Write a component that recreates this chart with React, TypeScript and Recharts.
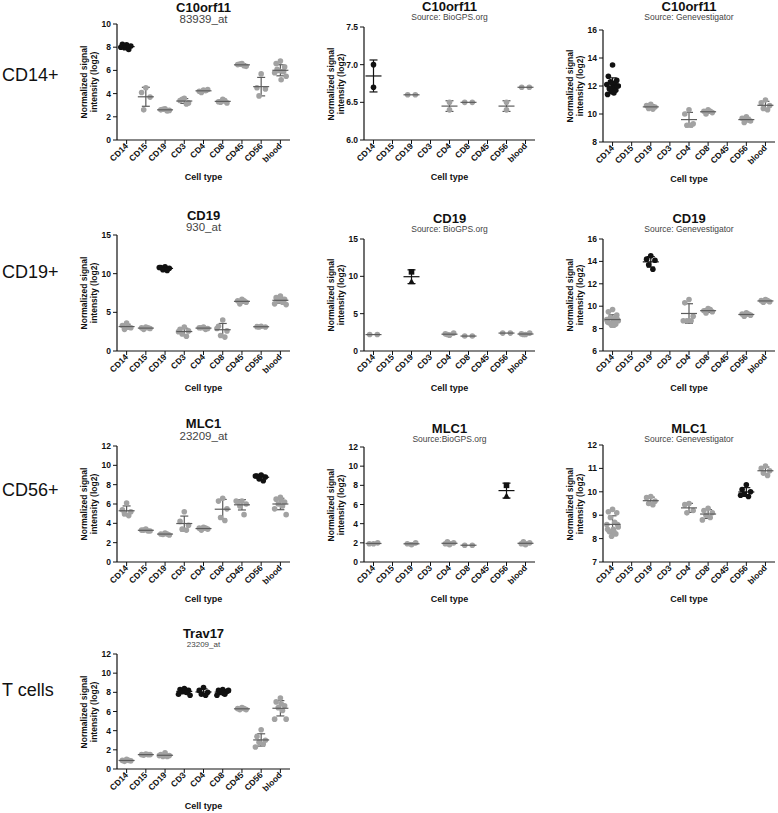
import React from "react";
import { ScatterChart, Scatter, XAxis, YAxis, ErrorBar } from "recharts";

const FONT = "'Liberation Sans', Arial, sans-serif";
const GREY = "#a2a2a2";
const GREY_BAR = "#5c5c5c";
const BLACK = "#111";

const cellTypes = ["CD14", "CD15", "CD19", "CD3", "CD4", "CD8", "CD45", "CD56", "blood"];
const rowLabels = ["CD14+", "CD19+", "CD56+", "T cells"];

// one list of samples per cell type, same order as cellTypes ([] = not measured)
const c10orf11Probe = [
  [8.2, 8.25, 8.1, 7.95, 7.8, 8.0],
  [4.5, 4.1, 3.7, 2.6],
  [2.7, 2.6, 2.55, 2.65, 2.5],
  [3.6, 3.4, 3.2, 3.5, 3.1],
  [4.3, 4.2, 4.35, 4.1, 4.25],
  [3.5, 3.3, 3.2, 3.25, 3.4],
  [6.6, 6.5, 6.35, 6.55, 6.4],
  [5.7, 4.5, 4.4, 3.8],
  [6.8, 6.6, 6.3, 6.0, 5.9, 5.8, 5.5, 5.2, 6.1, 5.9],
];
const c10orf11BioGPS = [
  [7.0, 6.7], [], [6.6, 6.6], [], [6.5, 6.4], [6.5, 6.5], [], [6.5, 6.4], [6.7, 6.7],
];
const c10orf11Geneve = [
  [13.5, 12.7, 12.4, 12.3, 12.2, 12.1, 12.0, 11.9, 11.8, 11.7, 11.6, 11.5, 11.4, 12.0, 12.2, 11.8],
  [],
  [10.7, 10.6, 10.5, 10.4, 10.35],
  [],
  [10.3, 10.0, 9.3, 9.2, 9.2],
  [10.3, 10.2, 10.1, 10.0, 10.2],
  [],
  [9.8, 9.7, 9.5, 9.4, 9.6],
  [11.0, 10.8, 10.6, 10.4, 10.3],
];
const cd19Probe = [
  [3.6, 3.3, 3.0, 2.8, 3.1],
  [3.1, 3.0, 2.9, 2.8, 3.0],
  [10.9, 10.8, 10.7, 10.5, 10.4, 10.8],
  [3.1, 2.8, 2.6, 2.2, 1.9, 2.5],
  [3.1, 3.0, 2.9, 3.0, 2.8],
  [4.0, 3.2, 2.6, 2.0, 1.8, 2.9],
  [6.7, 6.5, 6.3, 6.1, 6.5],
  [3.2, 3.15, 3.1, 3.1],
  [7.1, 6.9, 6.7, 6.5, 6.3, 6.1, 6.0, 6.6, 6.8],
];
const cd19BioGPS = [
  [2.2, 2.2], [], [10.6, 9.3], [], [2.1, 2.3, 2.4, 2.2], [2.0, 2.0], [], [2.4, 2.4], [2.2, 2.3, 2.4, 2.2],
];
const cd19Geneve = [
  [9.7, 9.5, 9.2, 9.0, 8.9, 8.8, 8.7, 8.6, 8.5, 8.4, 8.3, 8.3, 8.6, 8.8],
  [],
  [14.5, 14.2, 14.1, 13.7, 13.3],
  [],
  [10.6, 10.3, 9.1, 8.7, 8.7, 8.7],
  [9.8, 9.6, 9.5, 9.4, 9.7],
  [],
  [9.4, 9.3, 9.2, 9.1, 9.3],
  [10.6, 10.5, 10.4, 10.35, 10.5],
];
const mlc1Probe = [
  [6.1, 5.4, 5.2, 5.0, 4.8],
  [3.4, 3.3, 3.2, 3.3, 3.2],
  [3.0, 2.9, 2.8, 2.85, 2.9],
  [5.2, 4.2, 3.8, 3.4, 3.3],
  [3.6, 3.5, 3.4, 3.3, 3.5],
  [6.6, 6.3, 5.5, 4.6, 4.3],
  [6.3, 6.2, 6.0, 5.8, 4.9, 6.3],
  [9.0, 8.9, 8.8, 8.6, 8.4, 8.9],
  [6.7, 6.5, 6.2, 6.0, 5.8, 5.5, 4.9, 6.4],
];
const mlc1BioGPS = [
  [1.9, 1.9, 2.0], [], [1.8, 1.9, 2.0], [], [1.8, 1.9, 2.0, 2.1], [1.75, 1.75], [], [8.0, 6.9], [1.8, 1.9, 2.0, 2.1],
];
const mlc1Geneve = [
  [9.25, 9.15, 9.1, 8.9, 8.7, 8.6, 8.5, 8.4, 8.3, 8.2, 8.1, 8.3, 8.4, 8.6],
  [],
  [9.8, 9.75, 9.6, 9.5, 9.45],
  [],
  [9.5, 9.45, 9.2, 9.1],
  [9.3, 9.2, 9.1, 9.0, 8.9, 8.8],
  [],
  [10.3, 10.1, 10.0, 9.9, 9.8, 9.85],
  [11.1, 11.0, 10.9, 10.8, 10.7],
];
const trav17Probe = [
  [1.0, 0.9, 0.85, 0.8, 0.9],
  [1.55, 1.5, 1.5, 1.45, 1.5],
  [1.7, 1.5, 1.4, 1.3, 1.3, 1.4],
  [8.4, 8.3, 8.2, 8.1, 8.0, 7.8, 7.7, 8.3],
  [8.5, 8.2, 8.0, 7.8, 7.7],
  [8.3, 8.2, 8.1, 8.0, 7.8, 7.7, 8.2, 7.9],
  [6.4, 6.3, 6.2, 6.2, 6.3],
  [4.1, 3.4, 3.0, 2.8, 2.6, 2.3],
  [7.4, 7.0, 6.6, 6.4, 6.1, 5.2, 5.2, 6.8],
];

const ticks0to10 = [0, 2, 4, 6, 8, 10];
const ticks0to12 = [0, 2, 4, 6, 8, 10, 12];
const ticks0to15 = [0, 5, 10, 15];
const ticks6to75 = [6.0, 6.5, 7.0, 7.5];
const ticks8to16 = [8, 10, 12, 14, 16];
const ticks6to16 = [6, 8, 10, 12, 14, 16];
const ticks7to12 = [7, 8, 9, 10, 11, 12];

const jitterPattern = [0, -0.22, 0.22, -0.11, 0.11, -0.3, 0.3, 0.04, -0.17, 0.17, -0.05, 0.07, -0.26, 0.26, -0.01, -0.14, 0.14];

const mean = (v: number[]) => v.reduce((a, b) => a + b, 0) / v.length;
const sd = (v: number[]) => {
  const m = mean(v);
  return Math.sqrt(v.reduce((a, b) => a + (b - m) ** 2, 0) / (v.length - 1));
};

function buildSeries(groups: number[][], highlight: string[]) {
  const grey: any[] = [], black: any[] = [], greyStats: any[] = [], blackStats: any[] = [];
  groups.forEach((vals, ci) => {
    if (!vals.length) return;
    const hi = highlight.includes(cellTypes[ci]);
    const same = vals.every((v) => v === vals[0]);
    vals.forEach((v, i) => {
      let off = jitterPattern[i % jitterPattern.length];
      if (vals.length === 2) off = same ? (i ? 0.2 : -0.2) : 0;
      (hi ? black : grey).push({ x: ci + 1 + off, y: v, k: i });
    });
    (hi ? blackStats : greyStats).push({ x: ci + 1, y: mean(vals), sd: sd(vals) });
  });
  return { grey, black, greyStats, blackStats };
}

type PanelCfg = {
  title: string; sub: string; subSize: number; data: number[][]; highlight: string[];
  domain: [number, number]; ticks: number[]; fmt?: (v: number) => string; mixedMarkers?: boolean;
  left: number; top: number; bottom: number; width: number; titleY: number; subY: number;
};

const panels: PanelCfg[] = [
  { title: "C10orf11", sub: "83939_at", subSize: 11.5, data: c10orf11Probe, highlight: ["CD14"], domain: [0, 10], ticks: ticks0to10, left: 117, top: 24, bottom: 140, width: 173, titleY: 7, subY: 19 },
  { title: "C10orf11", sub: "Source: BioGPS.org", subSize: 8.5, data: c10orf11BioGPS, highlight: ["CD14"], domain: [6, 7.5], ticks: ticks6to75, fmt: (v) => v.toFixed(1), left: 364, top: 27, bottom: 140, width: 171, titleY: 6, subY: 17 },
  { title: "C10orf11", sub: "Source: Genevestigator", subSize: 8.5, data: c10orf11Geneve, highlight: ["CD14"], domain: [8, 16], ticks: ticks8to16, left: 603, top: 30, bottom: 142, width: 172, titleY: 6, subY: 17 },
  { title: "CD19", sub: "930_at", subSize: 11.5, data: cd19Probe, highlight: ["CD19"], domain: [0, 15], ticks: ticks0to15, left: 117, top: 235, bottom: 351, width: 173, titleY: 215, subY: 227 },
  { title: "CD19", sub: "Source: BioGPS.org", subSize: 8.5, data: cd19BioGPS, highlight: ["CD19"], domain: [0, 15], ticks: ticks0to15, mixedMarkers: true, left: 364, top: 239, bottom: 351, width: 171, titleY: 218, subY: 229 },
  { title: "CD19", sub: "Source: Genevestigator", subSize: 8.5, data: cd19Geneve, highlight: ["CD19"], domain: [6, 16], ticks: ticks6to16, left: 603, top: 239, bottom: 351, width: 172, titleY: 218, subY: 229 },
  { title: "MLC1", sub: "23209_at", subSize: 11.5, data: mlc1Probe, highlight: ["CD56"], domain: [0, 12], ticks: ticks0to12, left: 117, top: 446, bottom: 562, width: 173, titleY: 423, subY: 436 },
  { title: "MLC1", sub: "Source:BioGPS.org", subSize: 8.5, data: mlc1BioGPS, highlight: ["CD56"], domain: [0, 12], ticks: ticks0to12, mixedMarkers: true, left: 364, top: 447, bottom: 562, width: 171, titleY: 428, subY: 439 },
  { title: "MLC1", sub: "Source: Genevestigator", subSize: 8.5, data: mlc1Geneve, highlight: ["CD56"], domain: [7, 12], ticks: ticks7to12, left: 603, top: 445, bottom: 562, width: 172, titleY: 428, subY: 439 },
  { title: "Trav17", sub: "23209_at", subSize: 8, data: trav17Probe, highlight: ["CD3", "CD4", "CD8"], domain: [0, 12], ticks: ticks0to12, left: 117, top: 654, bottom: 769, width: 173, titleY: 633, subY: 644 },
];

const rowLabelY = [75, 272, 490, 690];

const renderCellTick = (props: any) => {
  const { x, y, payload } = props;
  const ax = x, ay = y + 0.5;
  return (
    <text x={ax} y={ay} transform={`rotate(-45 ${ax} ${ay})`} textAnchor="end" dy="0.35em"
      fontSize={8.5} fontWeight="bold" fill={BLACK} fontFamily={FONT}>
      {cellTypes[payload.value - 1]}
    </text>
  );
};

const dot = (color: string) => (p: any) => <circle cx={p.cx} cy={p.cy} r={2.8} fill={color} />;
// BioGPS highlighted pairs: first sample square, second triangle
const squareOrTriangle = (p: any) =>
  p.payload?.k === 0 ? (
    <rect x={p.cx - 2.8} y={p.cy - 2.8} width={5.6} height={5.6} fill={BLACK} />
  ) : (
    <path d={`M${p.cx},${p.cy - 3.4}L${p.cx + 3.4},${p.cy + 2.8}L${p.cx - 3.4},${p.cy + 2.8}Z`} fill={BLACK} />
  );
const meanLine = (color: string) => (p: any) => (
  <line x1={p.cx - 8} x2={p.cx + 8} y1={p.cy} y2={p.cy} stroke={color} strokeWidth={1.2} />
);

function Panel({ p }: { p: PanelCfg }) {
  const yAxisW = 40, mTop = 12, xAxisH = 46, mRight = 4;
  const plotH = p.bottom - p.top;
  const s = buildSeries(p.data, p.highlight);
  const cx = p.left + p.width / 2;
  const cy = (p.top + p.bottom) / 2;
  return (
    <>
      <div style={{ position: "absolute", left: p.left - yAxisW, top: p.top - mTop }}>
        <ScatterChart width={yAxisW + p.width + mRight} height={mTop + plotH + xAxisH} margin={{ top: mTop, right: mRight, bottom: 0, left: 0 }}>
          <XAxis type="number" dataKey="x" domain={[0.5, 9.5]} ticks={[1, 2, 3, 4, 5, 6, 7, 8, 9]} interval={0}
            height={xAxisH} tickSize={4} tickMargin={0} tick={renderCellTick} allowDataOverflow
            axisLine={{ stroke: BLACK, strokeWidth: 1.2 }} tickLine={{ stroke: BLACK }} />
          <YAxis type="number" dataKey="y" domain={p.domain} ticks={p.ticks} interval={0} width={yAxisW}
            tickSize={4} tickMargin={2} allowDataOverflow tickFormatter={p.fmt}
            tick={{ fontSize: 8.5, fontWeight: "bold", fill: BLACK, fontFamily: FONT }}
            axisLine={{ stroke: BLACK, strokeWidth: 1.2 }} tickLine={{ stroke: BLACK }} />
          <Scatter data={s.grey} shape={dot(GREY)} isAnimationActive={false} />
          <Scatter data={s.black} shape={p.mixedMarkers ? squareOrTriangle : dot(BLACK)} isAnimationActive={false} />
          <Scatter data={s.greyStats} shape={meanLine(GREY_BAR)} isAnimationActive={false}>
            <ErrorBar dataKey="sd" direction="y" width={4} stroke={GREY_BAR} strokeWidth={1.2} />
          </Scatter>
          <Scatter data={s.blackStats} shape={meanLine(BLACK)} isAnimationActive={false}>
            <ErrorBar dataKey="sd" direction="y" width={4} stroke={BLACK} strokeWidth={1.2} />
          </Scatter>
        </ScatterChart>
      </div>
      <div style={{ position: "absolute", left: cx, top: p.titleY, transform: "translate(-50%,-50%)", fontSize: 13, fontWeight: "bold", whiteSpace: "nowrap", color: BLACK }}>
        {p.title}
      </div>
      <div style={{ position: "absolute", left: cx, top: p.subY, transform: "translate(-50%,-50%)", fontSize: p.subSize, whiteSpace: "nowrap", color: "#444" }}>
        {p.sub}
      </div>
      <div style={{ position: "absolute", left: p.left - 28, top: cy, transform: "translate(-50%,-50%) rotate(-90deg)", fontSize: 8.5, fontWeight: "bold", lineHeight: "10px", textAlign: "center", whiteSpace: "nowrap", color: BLACK }}>
        Normalized signal<br />intensity (log2)
      </div>
      <div style={{ position: "absolute", left: cx, top: p.bottom + 37, transform: "translate(-50%,-50%)", fontSize: 9, fontWeight: "bold", whiteSpace: "nowrap", color: BLACK }}>
        Cell type
      </div>
    </>
  );
}

export default function App() {
  return (
    <div style={{ position: "absolute", left: 0, top: 0, width: 778, height: 813, background: "#fff", fontFamily: FONT, overflow: "hidden" }}>
      {rowLabels.map((r, i) => (
        <div key={r} style={{ position: "absolute", left: 2, top: rowLabelY[i], transform: "translateY(-50%)", fontSize: 18, color: BLACK, whiteSpace: "nowrap" }}>
          {r}
        </div>
      ))}
      {panels.map((p, i) => (
        <Panel key={i} p={p} />
      ))}
    </div>
  );
}
